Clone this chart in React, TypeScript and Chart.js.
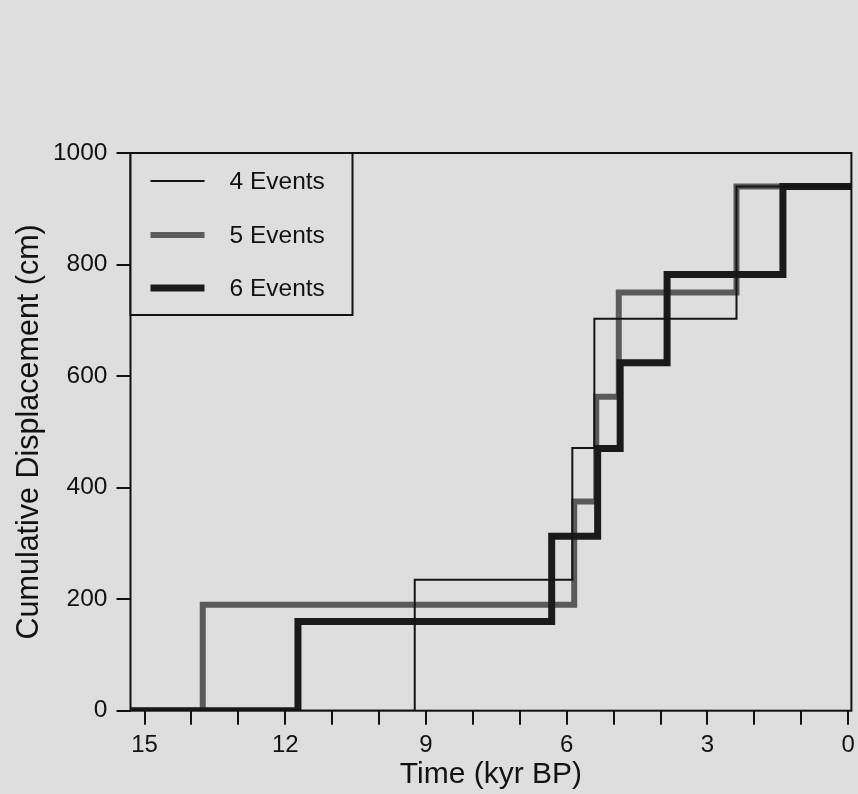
import React, { useEffect, useRef } from "react";
import { Chart, registerables } from "chart.js";

Chart.register(...registerables);

// ---- data ----
const X_MIN = -0.07; // kyr BP (right edge)
const X_MAX = 15.3; // kyr BP (left edge)
const Y_MIN = 0;
const Y_MAX = 1000;

const xTickValues = [0, 1, 2, 3, 4, 5, 6, 7, 8, 9, 10, 11, 12, 13, 14, 15];
const xLabelValues = [0, 3, 6, 9, 12, 15];
const yTickValues = [0, 200, 400, 600, 800, 1000];

const seriesNames = ["4 Events", "5 Events", "6 Events"];

// event times (kyr BP) and cumulative displacement after each event (cm)
const times4 = [9.24, 5.88, 5.41, 2.38];
const disp4 = [235, 471, 703, 940];

const times5 = [13.76, 5.84, 5.37, 4.89, 2.38];
const disp5 = [190, 375, 563, 750, 940];

const times6 = [11.73, 6.32, 5.34, 4.86, 3.86, 1.39];
const disp6 = [160, 313, 470, 624, 782, 940];

const FONT = "'Liberation Sans', Arial, Helvetica, sans-serif";
const INK = "#121212";
const BG = "#dedede";

function stepPoints(times: number[], disps: number[]) {
  const pts: { x: number; y: number }[] = [{ x: X_MAX, y: 0 }];
  let prev = 0;
  times.forEach((t, i) => {
    pts.push({ x: t, y: prev });
    pts.push({ x: t, y: disps[i] });
    prev = disps[i];
  });
  pts.push({ x: X_MIN, y: prev });
  return pts;
}

const bgPlugin = {
  id: "bgFill",
  beforeDraw(chart: any) {
    const { ctx, width, height } = chart;
    ctx.save();
    ctx.fillStyle = BG;
    ctx.fillRect(0, 0, width, height);
    ctx.restore();
  },
};

const framePlugin = {
  id: "frameBox",
  afterDatasetsDraw(chart: any) {
    const { ctx, chartArea } = chart;
    ctx.save();
    ctx.strokeStyle = INK;
    ctx.lineWidth = 2;
    ctx.strokeRect(
      chartArea.left,
      chartArea.top,
      chartArea.right - chartArea.left,
      chartArea.bottom - chartArea.top
    );
    ctx.restore();
  },
};

const boxLegendPlugin = {
  id: "boxLegend",
  afterDraw(chart: any) {
    const { ctx, chartArea } = chart;
    const left = chartArea.left;
    const top = chartArea.top;
    const w = 222;
    const h = 162;
    ctx.save();
    ctx.fillStyle = BG;
    ctx.fillRect(left, top, w, h);
    ctx.strokeStyle = INK;
    ctx.lineWidth = 2;
    ctx.strokeRect(left, top, w, h);
    const rowY = [28, 82, 135];
    [0, 1, 2].forEach((di, i) => {
      const ds = chart.data.datasets[di];
      const y = top + rowY[i];
      ctx.beginPath();
      ctx.strokeStyle = ds.borderColor;
      ctx.lineWidth = ds.borderWidth;
      ctx.lineCap = "butt";
      ctx.moveTo(left + 20, y);
      ctx.lineTo(left + 74, y);
      ctx.stroke();
      ctx.fillStyle = INK;
      ctx.font = `24.5px ${FONT}`;
      ctx.textAlign = "left";
      ctx.textBaseline = "middle";
      ctx.fillText(ds.label, left + 99, y + 1);
    });
    ctx.restore();
  },
};

export default function App() {
  const ref = useRef<HTMLCanvasElement | null>(null);

  useEffect(() => {
    document.body.style.margin = "0";
    document.body.style.background = BG;
    const canvas = ref.current;
    if (!canvas) return;
    const chart = new Chart(canvas, {
      type: "line",
      data: {
        datasets: [
          {
            label: seriesNames[0],
            data: stepPoints(times4, disp4),
            borderColor: "#141414",
            borderWidth: 2,
            pointRadius: 0,
            fill: false,
            tension: 0,
            borderJoinStyle: "miter",
            borderCapStyle: "butt",
            order: 0,
          },
          {
            label: seriesNames[1],
            data: stepPoints(times5, disp5),
            borderColor: "#5a5a5a",
            borderWidth: 6,
            pointRadius: 0,
            fill: false,
            tension: 0,
            borderJoinStyle: "miter",
            borderCapStyle: "butt",
            order: 2,
          },
          {
            label: seriesNames[2],
            data: stepPoints(times6, disp6),
            borderColor: "#1a1a1a",
            borderWidth: 7,
            pointRadius: 0,
            fill: false,
            tension: 0,
            borderJoinStyle: "miter",
            borderCapStyle: "butt",
            order: 1,
          },
        ],
      },
      options: {
        responsive: false,
        animation: false,
        devicePixelRatio: 1,
        layout: { padding: { top: 153, right: 6.6, bottom: 0, left: 0 } },
        plugins: {
          legend: { display: false },
          tooltip: { enabled: false },
        },
        scales: {
          x: {
            type: "linear",
            reverse: true,
            min: X_MIN,
            max: X_MAX,
            afterBuildTicks(scale: any) {
              scale.ticks = xTickValues.map((v) => ({ value: v }));
            },
            afterFit(scale: any) {
              scale.height = 83.3;
            },
            ticks: {
              autoSkip: false,
              maxRotation: 0,
              color: INK,
              padding: 6,
              font: { family: FONT, size: 24 },
              callback: (v: any) => (xLabelValues.includes(Number(v)) ? String(v) : ""),
            },
            grid: {
              drawOnChartArea: false,
              drawTicks: true,
              tickLength: 14,
              color: INK,
              lineWidth: 2,
            },
            border: { display: false },
            title: {
              display: true,
              text: "Time (kyr BP)",
              color: INK,
              font: { family: FONT, size: 30 },
              padding: { top: 0, bottom: 1 },
            },
          },
          y: {
            type: "linear",
            min: Y_MIN,
            max: Y_MAX,
            afterBuildTicks(scale: any) {
              scale.ticks = yTickValues.map((v) => ({ value: v }));
            },
            afterFit(scale: any) {
              scale.width = 130.5;
            },
            ticks: {
              color: INK,
              padding: 9,
              font: { family: FONT, size: 24.5 },
              callback: (v: any) => String(v),
            },
            grid: {
              drawOnChartArea: false,
              drawTicks: true,
              tickLength: 14,
              color: INK,
              lineWidth: 2,
            },
            border: { display: false },
            title: {
              display: true,
              text: "Cumulative Displacement (cm)",
              color: INK,
              font: { family: FONT, size: 30.5 },
              padding: { top: 11, bottom: 0 },
            },
          },
        },
      } as any,
      plugins: [bgPlugin, framePlugin, boxLegendPlugin],
    });
    return () => chart.destroy();
  }, []);

  return (
    <canvas
      ref={ref}
      width={858}
      height={794}
      style={{ display: "block", width: 858, height: 794 }}
    />
  );
}
